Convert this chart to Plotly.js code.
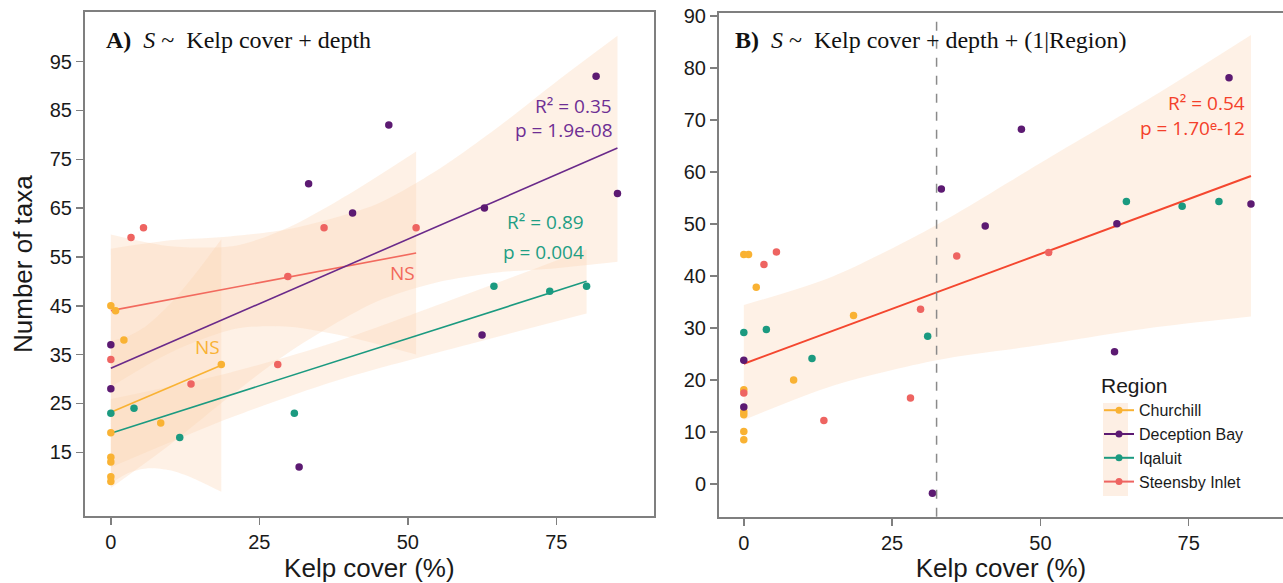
<!DOCTYPE html>
<html>
<head>
<meta charset="utf-8">
<script src="https://cdn.plot.ly/plotly-3.0.1.min.js"></script>
<style>html,body{margin:0;padding:0;background:#fff;}#chart{width:1283px;height:583px;}</style>
</head>
<body>
<div id="chart"></div>
<script>
// ---------------- Data: Panel A (raw richness per region) ----------------
const regions = ["Churchill", "Deception Bay", "Iqaluit", "Steensby Inlet"];

const churchillA_x = [0, 0.8, 2.2, 18.6, 8.4, 0, 0, 0, 0, 0];
const churchillA_y = [45, 44, 38, 33, 21, 19, 14, 13, 10, 9];
const deceptionA_x = [81.7, 46.8, 33.3, 40.7, 62.9, 85.3, 62.5, 31.7, 0, 0];
const deceptionA_y = [92, 82, 70, 64, 65, 68, 39, 12, 37, 28];
const iqaluitA_x = [64.5, 73.9, 80.1, 0, 3.9, 11.6, 30.9];
const iqaluitA_y = [49, 48, 49, 23, 24, 18, 23];
const steensbyA_x = [3.4, 5.5, 35.9, 51.4, 29.8, 0, 13.5, 28.1];
const steensbyA_y = [59, 61, 61, 61, 51, 34, 29, 33];

// fitted lines (endpoints)
const churchillFitA_x = [0, 18.6];   const churchillFitA_y = [23.2, 32.8];
const deceptionFitA_x = [0, 85.3];   const deceptionFitA_y = [32.2, 77.3];
const iqaluitFitA_x = [0, 80.1];     const iqaluitFitA_y = [18.9, 50.0];
const steensbyFitA_x = [0, 51.4];    const steensbyFitA_y = [44.0, 55.8];

// confidence ribbons
const churchillBand_x = [0, 3, 6, 10, 14, 18.6];
const churchillBand_lo = [8.6, 10.8, 11.7, 11.3, 9.6, 6.9];
const churchillBand_hi = [37.8, 38.8, 40.9, 45.4, 51.2, 58.6];
const deceptionBand_x = [0, 10, 20, 30, 44.5, 55, 65, 75, 85.3];
const deceptionBand_lo = [7.7, 16.6, 26.4, 35.5, 45.7, 49.8, 51.8, 52.7, 54.0];
const deceptionBand_hi = [56.7, 58.4, 59.2, 60.7, 65.7, 72.8, 81.4, 90.9, 100.3];
const iqaluitBand_x = [0, 20, 37.8, 60, 80.1];
const iqaluitBand_lo = [11.9, 22.0, 29.6, 37.0, 43.4];
const iqaluitBand_hi = [25.9, 31.3, 37.6, 47.4, 56.6];
const steensbyBand_x = [0, 10, 21, 30, 40, 51.4];
const steensbyBand_lo = [28.4, 35.4, 40.3, 40.7, 38.6, 35.0];
const steensbyBand_hi = [59.6, 57.2, 57.3, 61.1, 67.8, 76.6];

// ---------------- Data: Panel B (mixed model) ----------------
const churchillB_x = [0, 0.8, 2.1, 18.5, 8.4, 0, 0, 0, 0, 0];
const churchillB_y = [44.1, 44.1, 37.8, 32.4, 20.0, 18.1, 13.9, 13.3, 10.1, 8.5];
const deceptionB_x = [81.8, 46.8, 33.3, 40.7, 62.9, 85.5, 62.5, 31.8, 0, 0];
const deceptionB_y = [78.1, 68.2, 56.7, 49.6, 50.0, 53.8, 25.4, -1.8, 23.8, 14.8];
const iqaluitB_x = [64.5, 73.9, 80.1, 0, 3.8, 11.5, 31.0];
const iqaluitB_y = [54.3, 53.4, 54.3, 29.1, 29.7, 24.1, 28.4];
const steensbyB_x = [3.4, 5.5, 35.9, 51.4, 29.8, 0, 13.5, 28.1];
const steensbyB_y = [42.2, 44.6, 43.8, 44.5, 33.6, 17.5, 12.2, 16.5];

const fitB_x = [0, 85.5];  const fitB_y = [23.1, 59.2];
const bandB_x = [0, 15, 32.5, 50, 70, 85.5];
const bandB_lo = [12.3, 18.9, 23.8, 26.7, 30.2, 32.2];
const bandB_hi = [34.4, 39.9, 49.8, 61.7, 75.2, 86.3];
const thresholdB = [32.5];

// ticks
const xTicks = [0, 25, 50, 75];
const yTicksA = [15, 25, 35, 45, 55, 65, 75, 85, 95];
const yTicksB = [0, 10, 20, 30, 40, 50, 60, 70, 80, 90];

// ---------------- Styling ----------------
const colors = {
  "Churchill": "#F9B233",
  "Deception Bay": "#5C1A72",
  "Iqaluit": "#1B9A80",
  "Steensby Inlet": "#EE6461"
};
const bandFill = "rgba(252, 212, 178, 0.32)";

function band(x, lo, hi, xa, ya) {
  return [
    {x: x, y: lo, xaxis: xa, yaxis: ya, type: "scatter", mode: "lines",
     line: {width: 0, shape: "spline", smoothing: 0.8}, hoverinfo: "skip", showlegend: false},
    {x: x, y: hi, xaxis: xa, yaxis: ya, type: "scatter", mode: "lines",
     fill: "tonexty", fillcolor: bandFill,
     line: {width: 0, shape: "spline", smoothing: 0.8}, hoverinfo: "skip", showlegend: false}
  ];
}
function pts(x, y, c, xa, ya) {
  return {x: x, y: y, xaxis: xa, yaxis: ya, type: "scatter", mode: "markers",
    marker: {color: c, size: 7.5}, showlegend: false, hoverinfo: "x+y"};
}
function fit(x, y, c, w, xa, ya) {
  return {x: x, y: y, xaxis: xa, yaxis: ya, type: "scatter", mode: "lines",
    line: {color: c, width: w}, showlegend: false, hoverinfo: "skip"};
}

const traces = [].concat(
  band(deceptionBand_x, deceptionBand_lo, deceptionBand_hi, "x", "y"),
  band(steensbyBand_x, steensbyBand_lo, steensbyBand_hi, "x", "y"),
  band(iqaluitBand_x, iqaluitBand_lo, iqaluitBand_hi, "x", "y"),
  band(churchillBand_x, churchillBand_lo, churchillBand_hi, "x", "y"),
  [
    fit(steensbyFitA_x, steensbyFitA_y, "#F26A5E", 1.6, "x", "y"),
    fit(deceptionFitA_x, deceptionFitA_y, "#6A2A8A", 1.6, "x", "y"),
    fit(iqaluitFitA_x, iqaluitFitA_y, "#1B9A80", 1.6, "x", "y"),
    fit(churchillFitA_x, churchillFitA_y, "#F9B233", 1.6, "x", "y"),
    pts(churchillA_x, churchillA_y, colors["Churchill"], "x", "y"),
    pts(deceptionA_x, deceptionA_y, colors["Deception Bay"], "x", "y"),
    pts(iqaluitA_x, iqaluitA_y, colors["Iqaluit"], "x", "y"),
    pts(steensbyA_x, steensbyA_y, colors["Steensby Inlet"], "x", "y")
  ],
  band(bandB_x, bandB_lo, bandB_hi, "x2", "y2"),
  [
    fit(fitB_x, fitB_y, "#F4472F", 2, "x2", "y2"),
    pts(churchillB_x, churchillB_y, colors["Churchill"], "x2", "y2"),
    pts(deceptionB_x, deceptionB_y, colors["Deception Bay"], "x2", "y2"),
    pts(iqaluitB_x, iqaluitB_y, colors["Iqaluit"], "x2", "y2"),
    pts(steensbyB_x, steensbyB_y, colors["Steensby Inlet"], "x2", "y2")
  ]
);
// legend entries
regions.forEach(r => traces.push({
  x: [null], y: [null], xaxis: "x2", yaxis: "y2", type: "scatter",
  mode: "lines+markers", name: r, line: {color: colors[r], width: 2},
  marker: {color: colors[r], size: 7}, showlegend: true
}));

const axisCommon = {
  ticks: "outside", ticklen: 7, tickwidth: 1.5, tickcolor: "#7f7f7f",
  showline: true, linecolor: "#7f7f7f", linewidth: 2,
  showgrid: false, zeroline: false,
  tickfont: {size: 20, family: "Liberation Sans, Arial, sans-serif", color: "#1a1a1a"}
};
const titleFont = {size: 26, family: "Liberation Sans, Arial, sans-serif", color: "#1a1a1a"};

const W = 1283, H = 583;
const px = v => v / W, py = v => 1 - v / H;
const annFont = c => ({family: "Open Sans, sans-serif", size: 19, color: c});

const layout = {
  width: W, height: H,
  margin: {l: 0, r: 0, t: 0, b: 0},
  paper_bgcolor: "#ffffff", plot_bgcolor: "#ffffff",
  showlegend: true,
  xaxis: Object.assign({}, axisCommon, {
    domain: [px(85), px(653.7)], range: [-4.35, 91.4], tickvals: xTicks,
    mirror: true, anchor: "y",
    title: {text: "Kelp cover (%)", font: titleFont, standoff: 8}
  }),
  yaxis: Object.assign({}, axisCommon, {
    domain: [py(516), py(12.3)], range: [1.95, 105.1], tickvals: yTicksA,
    mirror: true, anchor: "x",
    title: {text: "Number of taxa", font: titleFont, standoff: 10}
  }),
  xaxis2: Object.assign({}, axisCommon, {
    domain: [px(719), 1], range: [-4.18, 90.9], tickvals: xTicks,
    mirror: true, anchor: "y2",
    title: {text: "Kelp cover (%)", font: titleFont, standoff: 8}
  }),
  yaxis2: Object.assign({}, axisCommon, {
    domain: [py(516.7), py(12.7)], range: [-6.3, 90.6], tickvals: yTicksB,
    mirror: false, anchor: "x2"
  }),
  legend: {
    x: px(1099), y: py(366), xanchor: "left", yanchor: "top",
    bgcolor: "rgba(0,0,0,0)", itemwidth: 30, traceorder: "normal",
    title: {text: "Region", font: {size: 21, family: "Liberation Sans, Arial, sans-serif", color: "#1a1a1a"}},
    font: {size: 16, family: "Liberation Sans, Arial, sans-serif", color: "#1a1a1a"},
    tracegroupgap: 0
  },
  shapes: [
    {type: "line", xref: "x2", yref: "y2 domain", x0: thresholdB[0], x1: thresholdB[0], y0: 0, y1: 1,
     line: {color: "#8a8a8a", width: 1.5, dash: "dash"}, layer: "above"},
    {type: "rect", xref: "paper", yref: "paper", x0: px(1103), x1: px(1128), y0: py(496), y1: py(403),
     fillcolor: "#FDEFE4", line: {width: 0}, layer: "below"}
  ],
  annotations: [
    {xref: "paper", yref: "paper", x: px(104), y: py(40), xanchor: "left", yanchor: "middle", showarrow: false,
     text: "<b>A)</b>  <i>S</i> ~  Kelp cover + depth",
     font: {family: "Liberation Serif, Times New Roman, serif", size: 24, color: "#111"}},
    {xref: "paper", yref: "paper", x: px(733), y: py(40), xanchor: "left", yanchor: "middle", showarrow: false,
     text: "<b>B)</b>  <i>S</i> ~  Kelp cover + depth + (1|Region)",
     font: {family: "Liberation Serif, Times New Roman, serif", size: 24, color: "#111"}},
    {xref: "paper", yref: "paper", x: px(614), y: py(106), xanchor: "right", yanchor: "middle", showarrow: false,
     text: "R² = 0.35", font: annFont("#6E2E94")},
    {xref: "paper", yref: "paper", x: px(615), y: py(130), xanchor: "right", yanchor: "middle", showarrow: false,
     text: "p = 1.9e-08", font: annFont("#6E2E94")},
    {xref: "paper", yref: "paper", x: px(586), y: py(222), xanchor: "right", yanchor: "middle", showarrow: false,
     text: "R² = 0.89", font: annFont("#1E9E84")},
    {xref: "paper", yref: "paper", x: px(586), y: py(252), xanchor: "right", yanchor: "middle", showarrow: false,
     text: "p = 0.004", font: annFont("#1E9E84")},
    {xref: "paper", yref: "paper", x: px(402), y: py(273), xanchor: "center", yanchor: "middle", showarrow: false,
     text: "NS", font: annFont("#F2685A")},
    {xref: "paper", yref: "paper", x: px(207.5), y: py(347), xanchor: "center", yanchor: "middle", showarrow: false,
     text: "NS", font: annFont("#F9B233")},
    {xref: "paper", yref: "paper", x: px(1247), y: py(103), xanchor: "right", yanchor: "middle", showarrow: false,
     text: "R² = 0.54", font: annFont("#F4402A")},
    {xref: "paper", yref: "paper", x: px(1247), y: py(128), xanchor: "right", yanchor: "middle", showarrow: false,
     text: "p = 1.70ᵉ-12", font: annFont("#F4402A")}
  ]
};

Plotly.newPlot("chart", traces, layout, {displayModeBar: false, responsive: false, staticPlot: true});
</script>
</body>
</html>
